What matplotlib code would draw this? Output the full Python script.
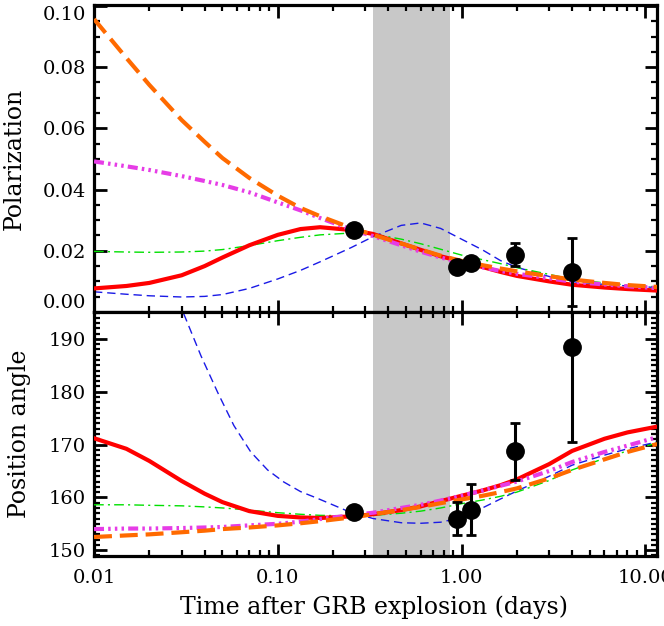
import numpy as np
import matplotlib
matplotlib.use('Agg')
import matplotlib.pyplot as plt
from matplotlib.ticker import MultipleLocator, LogLocator, NullFormatter

plt.rcParams['font.family'] = ['DejaVu Serif']
plt.rcParams['font.size'] = 14

# model curve times (days)
t_model = [0.01, 0.015, 0.02, 0.03, 0.04, 0.05, 0.07, 0.1, 0.133, 0.17, 0.25, 0.33,
           0.47, 0.6, 0.77, 1.0, 1.3, 1.63, 2.0, 3.0, 4.0, 6.0, 8.0, 11.6]

# polarization models
pol_red = [0.0077, 0.0085, 0.0095, 0.0120, 0.0150, 0.0178, 0.0218, 0.0252, 0.0271, 0.0277, 0.0268, 0.0255,
           0.0224, 0.0203, 0.0182, 0.0165, 0.0147, 0.0131, 0.0118, 0.0100, 0.0089, 0.0080, 0.0075, 0.0070]
pol_orange = [0.0957, 0.0830, 0.0742, 0.0627, 0.0556, 0.0503, 0.0438, 0.0380, 0.0340, 0.0313, 0.0275, 0.0252,
              0.0224, 0.0204, 0.0184, 0.0167, 0.0153, 0.0142, 0.0133, 0.0117, 0.0106, 0.0095, 0.0088, 0.0082]
pol_magenta = [0.0492, 0.0476, 0.0464, 0.0444, 0.0428, 0.0415, 0.0391, 0.0358, 0.0332, 0.0307, 0.0270, 0.0248,
               0.0218, 0.0197, 0.0178, 0.0161, 0.0146, 0.0134, 0.0125, 0.0110, 0.0099, 0.0090, 0.0084, 0.0078]
pol_green = [0.0198, 0.0196, 0.0195, 0.0196, 0.0199, 0.0204, 0.0217, 0.0233, 0.0244, 0.0252, 0.0258, 0.0255,
             0.0238, 0.0223, 0.0205, 0.0186, 0.0171, 0.0158, 0.0145, 0.0123, 0.0107, 0.0095, 0.0088, 0.0082]
pol_blue = [0.0066, 0.0058, 0.0053, 0.0049, 0.0051, 0.0057, 0.0077, 0.0108, 0.0136, 0.0164, 0.0210, 0.0246,
            0.0283, 0.0291, 0.0273, 0.0238, 0.0203, 0.0168, 0.0146, 0.0116, 0.0099, 0.0090, 0.0085, 0.0080]

# position angle models
pa_red = [171.2, 169.2, 166.9, 163.1, 160.7, 159.1, 157.4, 156.5, 156.2, 156.1, 156.4, 156.8,
          157.6, 158.3, 159.3, 160.3, 161.3, 162.3, 163.4, 166.3, 168.8, 171.1, 172.3, 173.4]
pa_orange = [152.5, 152.8, 153.0, 153.4, 153.7, 154.0, 154.3, 154.7, 155.1, 155.5, 156.2, 156.8,
             157.6, 158.2, 158.9, 159.6, 160.3, 161.0, 161.7, 163.6, 165.2, 167.2, 168.6, 170.1]
pa_magenta = [154.0, 154.1, 154.1, 154.2, 154.3, 154.4, 154.7, 155.0, 155.4, 155.9, 156.6, 157.1,
              158.0, 158.6, 159.4, 160.3, 161.3, 162.2, 163.0, 165.0, 166.7, 168.6, 169.8, 171.4]
pa_green = [158.6, 158.6, 158.5, 158.4, 158.2, 158.0, 157.6, 157.1, 156.8, 156.6, 156.5, 156.6,
            157.0, 157.4, 158.0, 158.8, 159.5, 160.2, 161.0, 163.2, 165.2, 167.4, 168.8, 170.3]
t_blue_pa = [0.02, 0.025, 0.0305, 0.0382, 0.0472, 0.0577, 0.0713, 0.088, 0.108, 0.133, 0.165, 0.24, 0.33,
             0.47, 0.6, 0.77, 1.0, 1.3, 1.63, 2.0, 3.0, 4.0, 6.0, 8.0, 11.6]
pa_blue = [211.0, 202.7, 195.1, 186.8, 179.8, 173.6, 168.6, 165.2, 162.9, 161.1, 159.8, 157.4, 156.0,
           155.2, 155.1, 155.3, 156.2, 158.0, 159.7, 161.2, 164.0, 166.1, 168.0, 169.2, 170.5]

# observations
t_obs = [0.26, 0.95, 1.13, 1.95, 4.0]
pol_obs = [0.0269, 0.0148, 0.0161, 0.0187, 0.0130]
pol_err = [0.0, 0.002, 0.002, 0.0037, 0.0112]
pa_obs = [157.3, 156.0, 157.7, 168.7, 188.5]
pa_err = [0.0, 3.1, 4.9, 5.4, 18.0]

# shaded interval (days)
band = (0.33, 0.87)

styles = [
    ('#1a1ae6', 1.0, (0, (6, 3.5)), 2),
    ('#00e000', 1.0, (0, (7, 3, 1.5, 3)), 3),
    ('#ff0000', 3.0, '-', 4),
    ('#e63ce6', 3.0, (0, (2.4, 1.0, 0.6, 1.0, 0.6, 1.0, 0.6, 1.0)), 5),
    ('#ff6a00', 3.0, (0, (4.3, 1.9)), 6),
]


def style_axis(ax):
    ax.set_xscale('log')
    ax.set_xlim(0.01, 11.6)
    ax.axvspan(band[0], band[1], color='#c8c8c8', lw=0, zorder=0)
    for s in ax.spines.values():
        s.set_linewidth(2.3)
    ax.tick_params(which='both', direction='in', top=True, right=True)
    ax.tick_params(which='major', length=9, width=2)
    ax.tick_params(which='minor', length=4.5, width=1.6)
    ax.xaxis.set_minor_locator(LogLocator(base=10, subs=np.arange(2, 10)))
    ax.xaxis.set_minor_formatter(NullFormatter())
    ax.tick_params(axis='x', pad=9)
    ax.tick_params(axis='y', pad=6)


fig = plt.figure(figsize=(6.64, 6.26), dpi=100)
ax1 = fig.add_axes([0.1416, 0.5016, 0.848, 0.4904])
ax2 = fig.add_axes([0.1416, 0.1118, 0.848, 0.3898])

style_axis(ax1)
style_axis(ax2)

pol_models = [pol_blue, pol_green, pol_red, pol_magenta, pol_orange]
pa_models = [pa_blue, pa_green, pa_red, pa_magenta, pa_orange]
for (col, lw, ls, z), yp, ya in zip(styles, pol_models, pa_models):
    ax1.plot(t_model, yp, color=col, lw=lw, ls=ls, zorder=z, dash_capstyle='butt')
    tb = t_blue_pa if ya is pa_blue else t_model
    ax2.plot(tb, ya, color=col, lw=lw, ls=ls, zorder=z, dash_capstyle='butt')

ax1.errorbar(t_obs, pol_obs, yerr=pol_err, fmt='o', color='black', ms=12.5,
             elinewidth=2.2, capsize=3.5, capthick=2, zorder=10)
ax2.errorbar(t_obs, pa_obs, yerr=pa_err, fmt='o', color='black', ms=12.5,
             elinewidth=2.2, capsize=3.5, capthick=2, zorder=10)

ax1.set_ylim(0, 0.1003)
ax1.yaxis.set_minor_locator(MultipleLocator(0.005))
ax1.set_yticks([0.0, 0.02, 0.04, 0.06, 0.08, 0.10])
ax1.set_yticklabels(['0.00', '0.02', '0.04', '0.06', '0.08', '0.10'])
ax1.get_yticklabels()[0].set_va('bottom')
ax1.get_yticklabels()[-1].set_va('top')
ax1.set_xticks([0.01, 0.1, 1, 10])
ax1.set_xticklabels([])

ax2.set_ylim(148.9, 195.1)
ax2.set_yticks([150, 160, 170, 180, 190])
ax2.set_yticklabels(['150', '160', '170', '180', '190'])
ax2.yaxis.set_minor_locator(MultipleLocator(1))
ax2.set_xticks([0.01, 0.1, 1, 10])
ax2.set_xticklabels(['0.01', '0.10', '1.00', '10.00'])

fig.text(0.021, 0.747, 'Polarization', rotation=90, ha='center', va='center', fontsize=17)
fig.text(0.030, 0.307, 'Position angle', rotation=90, ha='center', va='center', fontsize=17)
fig.text(0.564, 0.030, 'Time after GRB explosion (days)', ha='center', va='center', fontsize=17)

fig.savefig('out.png', dpi=100)
